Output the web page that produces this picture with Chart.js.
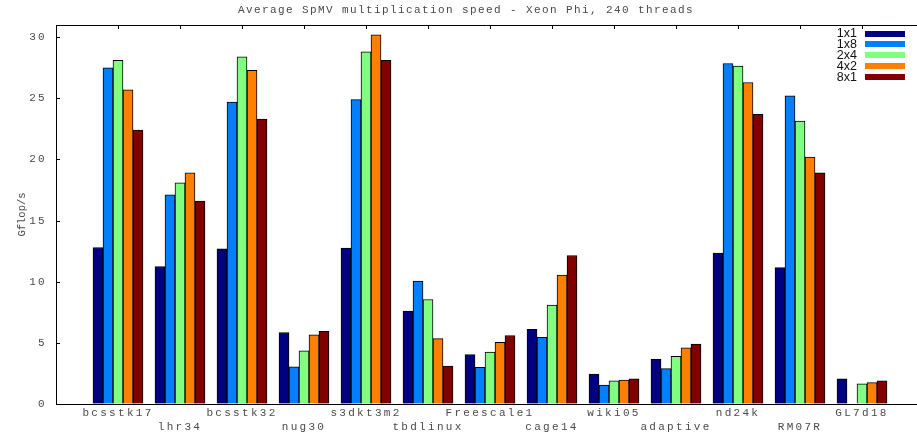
<!DOCTYPE html>
<html>
<head>
<meta charset="utf-8">
<script src="https://cdn.jsdelivr.net/npm/chart.js@4/dist/chart.umd.min.js"></script>
<style>
  html, body { margin: 0; padding: 0; background: #fff; overflow: hidden; }
  #wrap { width: 917px; height: 434px; }
</style>
</head>
<body>
<div id="wrap"><canvas id="c" width="917" height="434"></canvas></div>
<script>
// matrices on the x axis
const categories = ['bcsstk17', 'lhr34', 'bcsstk32', 'nug30', 's3dkt3m2', 'tbdlinux', 'Freescale1',
                    'cage14', 'wiki05', 'adaptive', 'nd24k', 'RM07R', 'GL7d18'];
// block sizes (legend)
const blocks = ['1x1', '1x8', '2x4', '4x2', '8x1'];
const colors = ['#000080', '#0080ff', '#80ff80', '#ff8000', '#800000'];

// Gflop/s per block size
const s1x1 = [12.8, 11.25, 12.7, 5.85, 12.75, 7.6, 4.05, 6.1, 2.45, 3.65, 12.35, 11.15, 2.05];
const s1x8 = [27.5, 17.1, 24.7, 3.05, 24.9, 10.05, 3.0, 5.45, 1.55, 2.9, 27.85, 25.2, null];
const s2x4 = [28.1, 18.1, 28.4, 4.35, 28.8, 8.55, 4.25, 8.1, 1.9, 3.9, 27.65, 23.15, 1.65];
const s4x2 = [25.7, 18.9, 27.3, 5.65, 30.2, 5.35, 5.05, 10.55, 1.95, 4.6, 26.3, 20.2, 1.75];
const s8x1 = [22.4, 16.6, 23.3, 5.95, 28.1, 3.1, 5.6, 12.15, 2.05, 4.9, 23.7, 18.9, 1.9];

const yTicks = [0, 5, 10, 15, 20, 25, 30];
const title = 'Average SpMV multiplication speed - Xeon Phi, 240 threads';
const yTitle = 'Gflop/s';

const series = [s1x1, s1x8, s2x4, s4x2, s8x1];
const datasets = series.map((vals, k) => ({
  label: blocks[k],
  data: vals.map((v, i) => ({ x: i, y: v })),
  backgroundColor: colors[k],
  borderColor: '#000',
  borderWidth: 1,
  borderSkipped: 'bottom',
  barThickness: 10
}));

const textColor = '#4a4a4a';

// gnuplot-like frame, inward ticks, title, y title and legend
const gnuplotBits = {
  id: 'gnuplotBits',
  beforeDraw(chart) {
    chart.ctx.letterSpacing = '2.3px';
  },
  beforeDatasetsDraw(chart) {
    chart.ctx.letterSpacing = '0px';
  },
  afterDraw(chart) {
    const { ctx, chartArea: a, scales: { x, y } } = chart;
    ctx.save();
    ctx.letterSpacing = '0px';
    ctx.strokeStyle = '#000';
    ctx.lineWidth = 1;
    ctx.beginPath();
    ctx.moveTo(a.left, Math.round(a.top) + 0.5);
    ctx.lineTo(a.right, Math.round(a.top) + 0.5);
    yTicks.forEach(v => {
      const py = Math.round(y.getPixelForValue(v)) + 0.5;
      ctx.moveTo(a.left, py);
      ctx.lineTo(a.left + 4, py);
    });
    categories.forEach((c, i) => {
      const px = Math.round(x.getPixelForValue(i)) + 0.5;
      ctx.moveTo(px, a.top);
      ctx.lineTo(px, a.top + 4);
    });
    ctx.stroke();

    // title
    ctx.letterSpacing = '1.4px';
    ctx.fillStyle = textColor;
    ctx.font = '11px "Liberation Mono"';
    ctx.textAlign = 'center';
    ctx.textBaseline = 'middle';
    ctx.fillText(title, 466, 10);

    // y title
    ctx.letterSpacing = '0px';
    ctx.save();
    ctx.translate(22, (a.top + a.bottom) / 2);
    ctx.rotate(-Math.PI / 2);
    ctx.font = '10.5px "Liberation Mono"';
    ctx.fillText(yTitle, 0, 0);
    ctx.restore();

    // legend
    ctx.font = '12.5px "Liberation Sans"';
    ctx.textAlign = 'right';
    blocks.forEach((b, k) => {
      const cy = 33.5 + k * 10.8;
      ctx.fillStyle = '#111';
      ctx.fillText(b, 857, cy + 0.5);
      ctx.fillStyle = colors[k];
      ctx.fillRect(865, Math.round(cy - 3), 40, 6);
    });
    ctx.restore();
  }
};

new Chart(document.getElementById('c'), {
  type: 'bar',
  data: { datasets },
  options: {
    responsive: false,
    animation: false,
    devicePixelRatio: 1,
    layout: { padding: { top: 25, left: 0, right: 0, bottom: 0 } },
    plugins: {
      legend: { display: false },
      title: { display: false },
      tooltip: { enabled: false }
    },
    scales: {
      x: {
        type: 'linear',
        offset: false,
        min: -1,
        max: 12.887,
        afterBuildTicks: s => { s.ticks = categories.map((c, i) => ({ value: i })); },
        afterFit: s => { s.height = 30; },
        grid: { display: true, drawOnChartArea: false, drawTicks: false, offset: false },
        border: { display: true, color: '#000', width: 1 },
        ticks: {
          autoSkip: false,
          maxRotation: 0,
          minRotation: 0,
          padding: 2,
          color: textColor,
          font: { family: 'Liberation Mono', size: 11, lineHeight: '14px' },
          callback: v => (v % 2 === 0 ? categories[v] : ['', categories[v]])
        }
      },
      y: {
        min: 0,
        max: 31,
        afterBuildTicks: s => { s.ticks = yTicks.map(v => ({ value: v })); },
        afterFit: s => { s.width = 56; },
        grid: { display: true, drawOnChartArea: false, drawTicks: false },
        border: { display: true, color: '#000', width: 1 },
        ticks: {
          padding: 9,
          color: textColor,
          font: { family: 'Liberation Mono', size: 11 }
        }
      }
    }
  },
  plugins: [gnuplotBits]
});
</script>
</body>
</html>
